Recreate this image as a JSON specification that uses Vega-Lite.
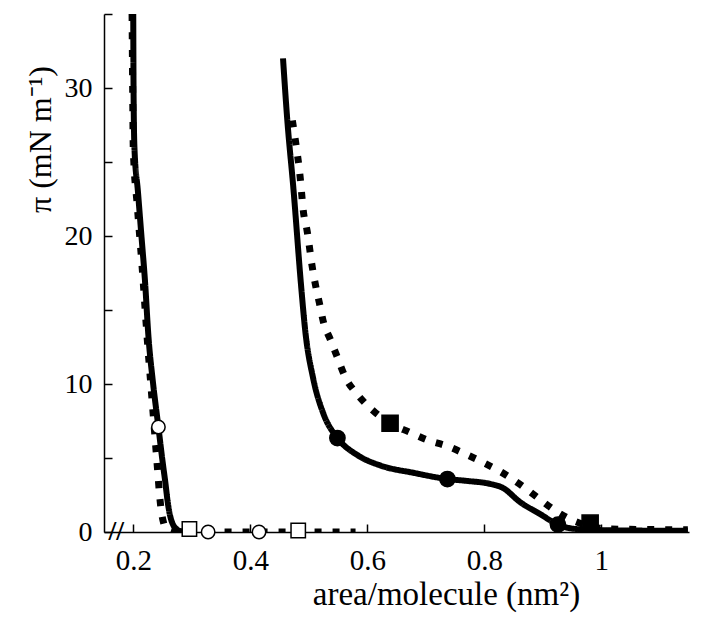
{
  "$schema": "https://vega.github.io/schema/vega-lite/v6.json",
  "width": 585,
  "height": 518,
  "autosize": {"type": "none"},
  "padding": {"left": 104, "top": 14, "right": 12, "bottom": 89},
  "background": "white",
  "config": {
    "view": {"stroke": null},
    "font": "Liberation Serif",
    "axis": {
      "grid": false,
      "domainColor": "black",
      "domainWidth": 1.5,
      "tickColor": "black",
      "tickWidth": 1.5,
      "labelColor": "black",
      "titleColor": "black",
      "labelFont": "Liberation Serif",
      "titleFont": "Liberation Serif",
      "labelFontSize": 28,
      "titleFontSize": 33,
      "titleFontWeight": "normal"
    }
  },
  "datasets": {
    "curves": [
      {"curve": "L", "style": "solid", "x": 0.200, "y": 35},
      {"curve": "L", "style": "solid", "x": 0.2005, "y": 30},
      {"curve": "L", "style": "solid", "x": 0.202, "y": 26},
      {"curve": "L", "style": "solid", "x": 0.208, "y": 23},
      {"curve": "L", "style": "solid", "x": 0.214, "y": 20},
      {"curve": "L", "style": "solid", "x": 0.220, "y": 17},
      {"curve": "L", "style": "solid", "x": 0.226, "y": 13.2},
      {"curve": "L", "style": "solid", "x": 0.234, "y": 10},
      {"curve": "L", "style": "solid", "x": 0.243, "y": 7.1},
      {"curve": "L", "style": "solid", "x": 0.250, "y": 4.8},
      {"curve": "L", "style": "solid", "x": 0.255, "y": 3.3},
      {"curve": "L", "style": "solid", "x": 0.259, "y": 2.0},
      {"curve": "L", "style": "solid", "x": 0.263, "y": 1.1},
      {"curve": "L", "style": "solid", "x": 0.268, "y": 0.5},
      {"curve": "L", "style": "solid", "x": 0.274, "y": 0.2},
      {"curve": "L", "style": "solid", "x": 0.282, "y": 0.05},
      {"curve": "L", "style": "solid", "x": 0.292, "y": 0},
      {"curve": "LD", "style": "dotted", "x": 0.198, "y": 35},
      {"curve": "LD", "style": "dotted", "x": 0.199, "y": 30},
      {"curve": "LD", "style": "dotted", "x": 0.200, "y": 26},
      {"curve": "LD", "style": "dotted", "x": 0.207, "y": 22},
      {"curve": "LD", "style": "dotted", "x": 0.215, "y": 18},
      {"curve": "LD", "style": "dotted", "x": 0.224, "y": 13},
      {"curve": "LD", "style": "dotted", "x": 0.232, "y": 9},
      {"curve": "LD", "style": "dotted", "x": 0.238, "y": 6},
      {"curve": "LD", "style": "dotted", "x": 0.242, "y": 4},
      {"curve": "LD", "style": "dotted", "x": 0.245, "y": 2.5},
      {"curve": "LD", "style": "dotted", "x": 0.248, "y": 1.4},
      {"curve": "LD", "style": "dotted", "x": 0.252, "y": 0.6},
      {"curve": "LD", "style": "dotted", "x": 0.258, "y": 0.15},
      {"curve": "LD", "style": "dotted", "x": 0.268, "y": 0},
      {"curve": "LD", "style": "dotted", "x": 0.58, "y": 0},
      {"curve": "M", "style": "solid", "x": 0.456, "y": 32},
      {"curve": "M", "style": "solid", "x": 0.463, "y": 28},
      {"curve": "M", "style": "solid", "x": 0.474, "y": 23.1},
      {"curve": "M", "style": "solid", "x": 0.487, "y": 16.6},
      {"curve": "M", "style": "solid", "x": 0.494, "y": 13.6},
      {"curve": "M", "style": "solid", "x": 0.508, "y": 10.3},
      {"curve": "M", "style": "solid", "x": 0.525, "y": 8.0},
      {"curve": "M", "style": "solid", "x": 0.549, "y": 6.35},
      {"curve": "M", "style": "solid", "x": 0.583, "y": 5.2},
      {"curve": "M", "style": "solid", "x": 0.622, "y": 4.5},
      {"curve": "M", "style": "solid", "x": 0.679, "y": 4.0},
      {"curve": "M", "style": "solid", "x": 0.737, "y": 3.58},
      {"curve": "M", "style": "solid", "x": 0.771, "y": 3.45},
      {"curve": "M", "style": "solid", "x": 0.81, "y": 3.25},
      {"curve": "M", "style": "solid", "x": 0.831, "y": 3.0},
      {"curve": "M", "style": "solid", "x": 0.862, "y": 2.0},
      {"curve": "M", "style": "solid", "x": 0.896, "y": 1.2},
      {"curve": "M", "style": "solid", "x": 0.926, "y": 0.5},
      {"curve": "M", "style": "solid", "x": 0.947, "y": 0.25},
      {"curve": "M", "style": "solid", "x": 0.98, "y": 0.15},
      {"curve": "M", "style": "solid", "x": 1.05, "y": 0.1},
      {"curve": "M", "style": "solid", "x": 1.148, "y": 0.08},
      {"curve": "MD", "style": "dotted", "x": 0.472, "y": 27.8},
      {"curve": "MD", "style": "dotted", "x": 0.477, "y": 26.5},
      {"curve": "MD", "style": "dotted", "x": 0.485, "y": 24.1},
      {"curve": "MD", "style": "dotted", "x": 0.491, "y": 21.6},
      {"curve": "MD", "style": "dotted", "x": 0.497, "y": 20.4},
      {"curve": "MD", "style": "dotted", "x": 0.506, "y": 17.9},
      {"curve": "MD", "style": "dotted", "x": 0.513, "y": 16.4},
      {"curve": "MD", "style": "dotted", "x": 0.518, "y": 15.5},
      {"curve": "MD", "style": "dotted", "x": 0.525, "y": 14.2},
      {"curve": "MD", "style": "dotted", "x": 0.537, "y": 13.0},
      {"curve": "MD", "style": "dotted", "x": 0.549, "y": 11.8},
      {"curve": "MD", "style": "dotted", "x": 0.562, "y": 10.5},
      {"curve": "MD", "style": "dotted", "x": 0.583, "y": 9.3},
      {"curve": "MD", "style": "dotted", "x": 0.61, "y": 8.2},
      {"curve": "MD", "style": "dotted", "x": 0.639, "y": 7.35},
      {"curve": "MD", "style": "dotted", "x": 0.672, "y": 6.75},
      {"curve": "MD", "style": "dotted", "x": 0.704, "y": 6.2},
      {"curve": "MD", "style": "dotted", "x": 0.737, "y": 5.8},
      {"curve": "MD", "style": "dotted", "x": 0.766, "y": 5.3},
      {"curve": "MD", "style": "dotted", "x": 0.798, "y": 4.7},
      {"curve": "MD", "style": "dotted", "x": 0.829, "y": 4.05},
      {"curve": "MD", "style": "dotted", "x": 0.86, "y": 3.25},
      {"curve": "MD", "style": "dotted", "x": 0.892, "y": 2.3},
      {"curve": "MD", "style": "dotted", "x": 0.923, "y": 1.4},
      {"curve": "MD", "style": "dotted", "x": 0.954, "y": 0.74},
      {"curve": "MD", "style": "dotted", "x": 0.981, "y": 0.4},
      {"curve": "MD", "style": "dotted", "x": 1.01, "y": 0.2},
      {"curve": "MD", "style": "dotted", "x": 1.148, "y": 0.15}
    ],
    "markers": [
      {"m": "open circle", "x": 0.243, "y": 7.1},
      {"m": "open circle", "x": 0.328, "y": 0},
      {"m": "open circle", "x": 0.415, "y": 0},
      {"m": "open square", "x": 0.296, "y": 0.2},
      {"m": "open square", "x": 0.482, "y": 0.1},
      {"m": "filled circle", "x": 0.549, "y": 6.35},
      {"m": "filled circle", "x": 0.737, "y": 3.58},
      {"m": "filled circle", "x": 0.926, "y": 0.5},
      {"m": "filled square", "x": 0.639, "y": 7.35},
      {"m": "filled square", "x": 0.981, "y": 0.6}
    ],
    "brk": [{"x": 0.171, "y": 0, "t": "//"}]
  },
  "layer": [
    {
      "data": {"name": "curves"},
      "mark": {"type": "line", "color": "black", "interpolate": "monotone", "strokeCap": "butt", "clip": true},
      "encoding": {
        "x": {
          "field": "x", "type": "quantitative",
          "scale": {"domain": [0.15, 1.15], "nice": false, "zero": false},
          "axis": {
            "title": "area/molecule (nm²)",
            "values": [0.2, 0.4, 0.6, 0.8, 1.0],
            "format": ".1~f",
            "tickSize": -8,
            "labelPadding": 22,
            "labelFontSize": 29,
            "titleX": 342,
            "titleY": 72,
            "titleAnchor": null,
            "titleAlign": "center",
            "titleBaseline": "alphabetic"
          }
        },
        "y": {
          "field": "y", "type": "quantitative",
          "scale": {"domain": [0, 35], "nice": false},
          "axis": {
            "title": "π (mN m⁻¹)",
            "values": [0, 5, 10, 15, 20, 25, 30, 35],
            "labelExpr": "datum.value % 10 === 0 ? datum.label : ''",
            "tickSize": -8,
            "labelPadding": 20,
            "titleFontSize": 32,
            "titleX": -64,
            "titleY": 125,
            "titleAngle": -90,
            "titleAlign": "center",
            "titleBaseline": "middle"
          }
        },
        "detail": {"field": "curve"},
        "strokeDash": {
          "field": "style", "type": "nominal",
          "scale": {"domain": ["solid", "dotted"], "range": [[1, 0], [7, 11]]},
          "legend": null
        },
        "strokeWidth": {
          "field": "style", "type": "nominal",
          "scale": {"domain": ["solid", "dotted"], "range": [6, 7]},
          "legend": null
        }
      }
    },
    {
      "data": {"name": "markers"},
      "mark": {"type": "point", "stroke": "black", "strokeWidth": 1.5, "opacity": 1},
      "encoding": {
        "x": {"field": "x", "type": "quantitative"},
        "y": {"field": "y", "type": "quantitative"},
        "shape": {
          "field": "m", "type": "nominal",
          "scale": {"domain": ["open circle", "open square", "filled circle", "filled square"], "range": ["circle", "square", "circle", "square"]},
          "legend": null
        },
        "fill": {
          "field": "m", "type": "nominal",
          "scale": {"domain": ["open circle", "open square", "filled circle", "filled square"], "range": ["white", "white", "black", "black"]},
          "legend": null
        },
        "size": {
          "field": "m", "type": "nominal",
          "scale": {"domain": ["open circle", "open square", "filled circle", "filled square"], "range": [180, 260, 200, 240]},
          "legend": null
        }
      }
    },
    {
      "data": {"name": "brk"},
      "mark": {"type": "text", "fontSize": 28, "fontWeight": "bold", "font": "Liberation Serif", "color": "black", "baseline": "middle", "align": "center"},
      "encoding": {
        "x": {"field": "x", "type": "quantitative"},
        "y": {"field": "y", "type": "quantitative"},
        "text": {"field": "t"}
      }
    }
  ]
}
